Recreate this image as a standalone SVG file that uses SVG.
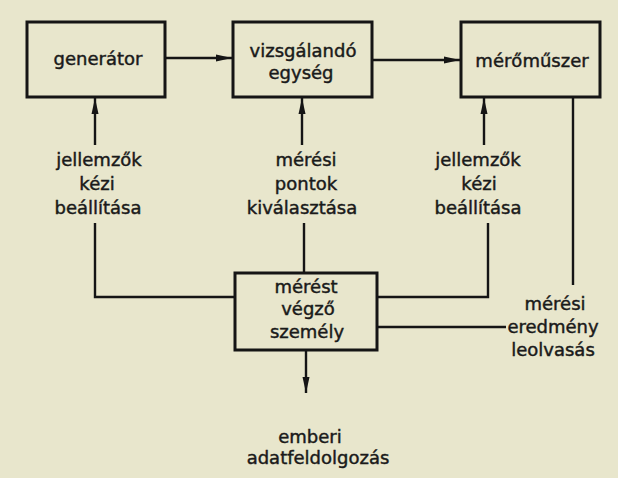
<svg xmlns="http://www.w3.org/2000/svg" width="618" height="478" viewBox="0 0 618 478">
<defs>
<style>
.box{fill:none;stroke:#151515;stroke-width:3}
.ln{fill:none;stroke:#151515;stroke-width:2.4}
.t{font-family:"DejaVu Sans","Liberation Sans",sans-serif;font-size:18px;fill:#1a1a1a;stroke:#1a1a1a;stroke-width:0.45;text-anchor:middle}
</style>
<marker id="ah" markerUnits="userSpaceOnUse" markerWidth="16" markerHeight="8" refX="16" refY="4" orient="auto">
<path d="M0,0.5 L16,4 L0,7.5 z" fill="#151515"/>
</marker>
</defs>
<rect width="618" height="478" fill="#e8e6cc"/>
<g id="connectors">
<path class="ln" d="M165,58 H232" marker-end="url(#ah)"/>
<path class="ln" d="M372,60 H460" marker-end="url(#ah)"/>
<path class="ln" d="M95,145 V98" marker-end="url(#ah)"/>
<path class="ln" d="M302,145 V98" marker-end="url(#ah)"/>
<path class="ln" d="M484,145 V98" marker-end="url(#ah)"/>
<path class="ln" d="M573,97 V285"/>
<path class="ln" d="M95,223 V297 H235"/>
<path class="ln" d="M304,223 V273"/>
<path class="ln" d="M377,297 H488 V223"/>
<path class="ln" d="M377,327 H506"/>
<path class="ln" d="M306,350 V393" marker-end="url(#ah)"/>
</g>
<g id="generator">
<rect class="box" x="27" y="22" width="138" height="75"/>
<text class="t" x="98" y="65">generátor</text>
</g>
<g id="vizsgalando">
<rect class="box" x="233" y="22" width="139" height="75"/>
<text class="t" x="303" y="57">vizsgálandó</text>
<text class="t" x="301" y="79">egység</text>
</g>
<g id="meromuszer">
<rect class="box" x="461" y="22" width="139" height="75"/>
<text class="t" x="532" y="67">mérőműszer</text>
</g>
<g id="szemely">
<rect class="box" x="235" y="273" width="142" height="77"/>
<text class="t" x="306" y="293">mérést</text>
<text class="t" x="308" y="315">végző</text>
<text class="t" x="307" y="338">személy</text>
</g>
<g id="label-gen">
<text class="t" x="99" y="166">jellemzők</text>
<text class="t" x="97" y="190">kézi</text>
<text class="t" x="98" y="214">beállítása</text>
</g>
<g id="label-meresi">
<text class="t" x="306" y="166">mérési</text>
<text class="t" x="306" y="190">pontok</text>
<text class="t" x="302" y="214">kiválasztása</text>
</g>
<g id="label-mero">
<text class="t" x="478" y="166">jellemzők</text>
<text class="t" x="479" y="190">kézi</text>
<text class="t" x="478" y="214">beállítása</text>
</g>
<g id="label-eredmeny">
<text class="t" x="555" y="310">mérési</text>
<text class="t" x="553" y="333">eredmény</text>
<text class="t" x="553" y="356">leolvasás</text>
</g>
<g id="label-adat">
<text class="t" x="310" y="443">emberi</text>
<text class="t" x="318" y="464">adatfeldolgozás</text>
</g>
</svg>
